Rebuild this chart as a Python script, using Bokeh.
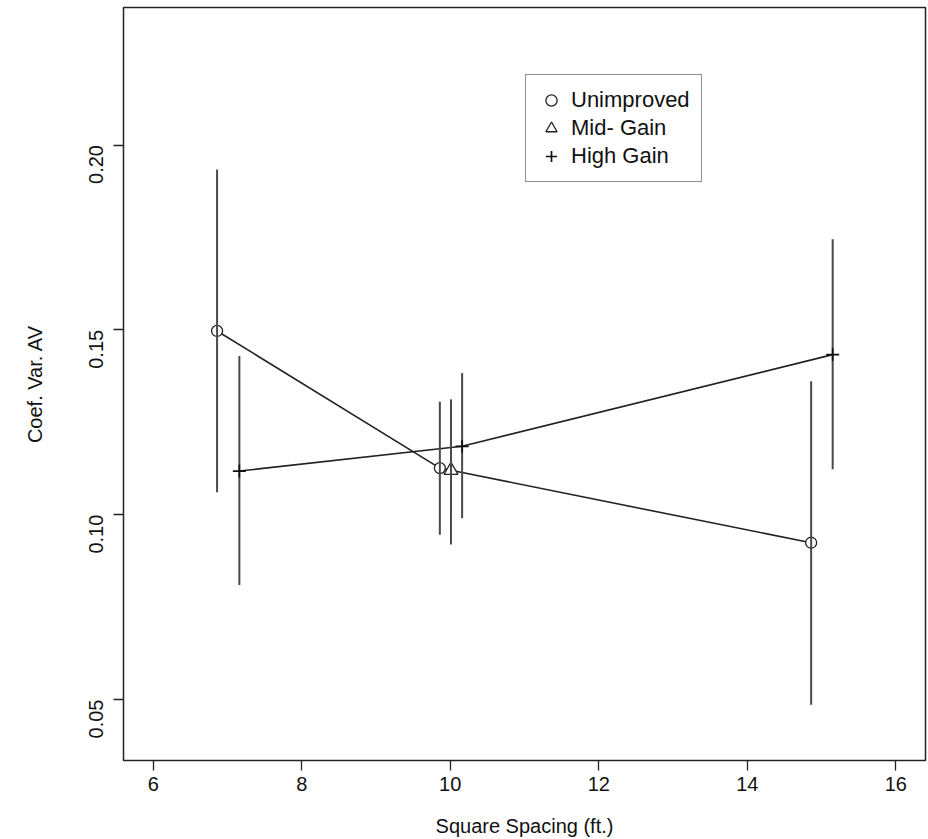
from bokeh.plotting import figure
from bokeh.models import Range1d, FixedTicker, Legend, LegendItem, PrintfTickFormatter
from bokeh.embed import file_html
from bokeh.resources import INLINE
import math

# Data
unimp_x = [6.86, 9.86, 14.86]
unimp_y = [0.1497, 0.1126, 0.0924]
unimp_lo = [0.1061, 0.0946, 0.0486]
unimp_hi = [0.1934, 0.1306, 0.1361]

mid_x = [10.01]
mid_y = [0.1120]
mid_lo = [0.0919]
mid_hi = [0.1312]

high_x = [7.16, 10.16, 15.15]
high_y = [0.1118, 0.1185, 0.1433]
high_lo = [0.0810, 0.0990, 0.1123]
high_hi = [0.1429, 0.1383, 0.1745]

# connecting line for unimproved + mid-gain points (sorted by x)
line1_x = unimp_x[:2] + mid_x + unimp_x[2:]
line1_y = unimp_y[:2] + mid_y + unimp_y[2:]

x_ticks = [6, 8, 10, 12, 14, 16]
y_ticks = [0.05, 0.10, 0.15, 0.20]

FONT = "Liberation Sans"

p = figure(width=928, height=839, output_backend="svg", toolbar_location=None,
           x_range=Range1d(5.6, 16.4), y_range=Range1d(0.0335, 0.2372),
           min_border_left=123, min_border_right=3, min_border_top=7, min_border_bottom=79)
p.background_fill_color = "white"
p.border_fill_color = "white"
p.outline_line_color = "#222222"
p.outline_line_width = 1.5
p.xgrid.visible = False
p.ygrid.visible = False

ln_col = "#222222"
bar_col = "#4a4a4a"

p.line(line1_x, line1_y, line_color=ln_col, line_width=1.6)
p.line(high_x, high_y, line_color=ln_col, line_width=1.6)

r_unimp = p.scatter(unimp_x, unimp_y, marker="circle", size=11, fill_color="white",
                    line_color=ln_col, line_width=1.3)
r_mid = p.scatter(mid_x, mid_y, marker="triangle", size=14, fill_color="white",
                  line_color=ln_col, line_width=1.3)

p.segment(x0=unimp_x, y0=unimp_lo, x1=unimp_x, y1=unimp_hi, line_color=bar_col, line_width=2)
p.segment(x0=mid_x, y0=mid_lo, x1=mid_x, y1=mid_hi, line_color=bar_col, line_width=2)
p.segment(x0=high_x, y0=high_lo, x1=high_x, y1=high_hi, line_color=bar_col, line_width=2)

r_high = p.scatter(high_x, high_y, marker="cross", size=13, line_color="#111111", line_width=1.7)

for ax in (p.xaxis[0], p.yaxis[0]):
    ax.axis_line_color = None
    ax.major_tick_out = 10
    ax.major_tick_in = 0
    ax.major_tick_line_color = "#222222"
    ax.major_tick_line_width = 1.3
    ax.minor_tick_line_color = None
    ax.major_label_text_font = FONT
    ax.major_label_text_font_size = "20px"
    ax.major_label_text_color = "#111111"
    ax.axis_label_text_font = FONT
    ax.axis_label_text_font_size = "20px"
    ax.axis_label_text_font_style = "normal"
    ax.axis_label_text_color = "#111111"

p.xaxis[0].major_label_standoff = 6
p.yaxis[0].major_label_standoff = 17
p.xaxis[0].ticker = FixedTicker(ticks=x_ticks)
p.yaxis[0].ticker = FixedTicker(ticks=y_ticks)
p.yaxis[0].formatter = PrintfTickFormatter(format="%.2f")
p.yaxis[0].major_label_orientation = math.pi / 2
p.xaxis[0].axis_label = "Square Spacing (ft.)"
p.yaxis[0].axis_label = "Coef. Var. AV"
p.xaxis[0].axis_label_standoff = 21
p.yaxis[0].axis_label_standoff = 34

legend = Legend(items=[
    LegendItem(label="Unimproved", renderers=[r_unimp]),
    LegendItem(label="Mid- Gain", renderers=[r_mid]),
    LegendItem(label="High Gain", renderers=[r_high]),
], location=(402, 578))
legend.border_line_color = "#222222"
legend.border_line_width = 1.3
legend.background_fill_color = "white"
legend.background_fill_alpha = 1.0
legend.label_text_font = FONT
legend.label_text_font_size = "22px"
legend.label_text_color = "#111111"
legend.padding = 11
legend.margin = 0
legend.spacing = 0
legend.label_height = 28
legend.glyph_height = 28
legend.glyph_width = 28
legend.label_standoff = 6
p.add_layout(legend, "center")

open("out.html", "w").write(file_html(p, INLINE))
